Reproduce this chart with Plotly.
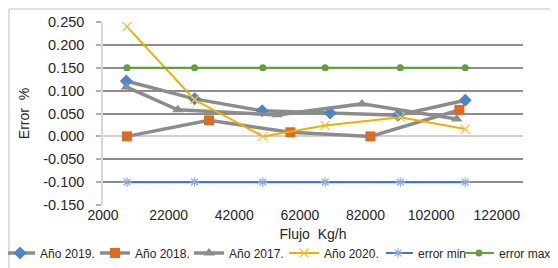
import plotly.graph_objects as go

# ---- data ----
x_2019 = [9100, 29900, 50500, 71200, 91900, 112400]
y_2019 = [0.121, 0.082, 0.056, 0.051, 0.046, 0.079]

x_2018 = [9300, 34300, 59100, 83500, 110600]
y_2018 = [0.000, 0.035, 0.009, 0.000, 0.058]

x_2017 = [9100, 24800, 55100, 80900, 109800]
y_2017 = [0.108, 0.058, 0.047, 0.071, 0.038]

x_2020 = [9300, 29900, 50700, 69700, 92600, 112400]
y_2020 = [0.240, 0.080, 0.000, 0.024, 0.042, 0.016]

x_err = [9300, 29900, 50700, 69700, 92600, 112400]
y_err_min = [-0.100, -0.100, -0.100, -0.100, -0.100, -0.100]
y_err_max = [0.150, 0.150, 0.150, 0.150, 0.150, 0.150]

x_tick_vals = [2000, 22000, 42000, 62000, 82000, 102000, 122000]
x_tick_text = ["2000", "22000", "42000", "62000", "82000", "102000", "122000"]
y_tick_vals = [-0.15, -0.10, -0.05, 0.0, 0.05, 0.10, 0.15, 0.20, 0.25]
y_tick_text = ["-0.150", "-0.100", "-0.050", "0.000", "0.050", "0.100", "0.150", "0.200", "0.250"]

# ---- layout constants ----
W, H = 558, 268
ML, MR, MT, MB = 95, 43, 14, 71
PW, PH = W - ML - MR, H - MT - MB
FONT = "Liberation Sans, Arial, sans-serif"
TXT = "#262626"
GREY_LINE = "#8c8c8c"
LEG_Y = -(245 - (H - MB)) / PH

fig = go.Figure()
fig.add_trace(go.Scatter(x=x_2019, y=y_2019, name="Año 2019.", mode="lines+markers",
                         line=dict(color=GREY_LINE, width=3.5),
                         marker=dict(symbol="diamond", size=10, color="#4a86c8"),
                         legendwidth=58))
fig.add_trace(go.Scatter(x=x_2018, y=y_2018, name="Año 2018.", mode="lines+markers",
                         line=dict(color=GREY_LINE, width=3.5),
                         marker=dict(symbol="square", size=10, color="#dc6a22"),
                         legendwidth=57))
fig.add_trace(go.Scatter(x=x_2017, y=y_2017, name="Año 2017.", mode="lines+markers",
                         line=dict(color=GREY_LINE, width=3.5),
                         marker=dict(symbol="triangle-up", size=10, color="#8c8c8c"),
                         legendwidth=58))
fig.add_trace(go.Scatter(x=x_2020, y=y_2020, name="Año 2020.", mode="lines+markers",
                         line=dict(color="#eeaf00", width=2),
                         marker=dict(symbol="x-thin-open", size=9, color="#f2c040",
                                     line=dict(width=1.2, color="#f2c040")),
                         legendwidth=60))
fig.add_trace(go.Scatter(x=x_err, y=y_err_min, name="error min", mode="lines+markers",
                         line=dict(color="#4472c4", width=2),
                         marker=dict(symbol="asterisk-open", size=8, color="#8faadc",
                                     line=dict(width=1.2, color="#8faadc")),
                         legend="legend2", legendwidth=44))
fig.add_trace(go.Scatter(x=x_err, y=y_err_max, name="error max", mode="lines+markers",
                         line=dict(color="#62a03a", width=2),
                         marker=dict(symbol="circle", size=7, color="#62a03a"),
                         legend="legend2", legendwidth=60))

legend_style = dict(orientation="h", xanchor="left", y=LEG_Y, yanchor="middle",
                    font=dict(size=12, color=TXT), bgcolor="rgba(0,0,0,0)",
                    traceorder="normal", borderwidth=0, indentation=-8)

fig.update_layout(
    width=W, height=H,
    margin=dict(l=ML, r=MR, t=MT, b=MB, autoexpand=False),
    paper_bgcolor="white", plot_bgcolor="white",
    font=dict(family=FONT, size=14, color=TXT),
    xaxis=dict(range=[2000, 130000], tickvals=x_tick_vals, ticktext=x_tick_text,
               showgrid=False, zeroline=False, showline=False, ticks="",
               ticklabelstandoff=0,
               title=dict(text="Flujo  Kg/h", font=dict(size=14, color=TXT), standoff=7)),
    xaxis2=dict(overlaying="x", matches="x", anchor="free", position=0.375,
                range=[2000, 130000], tickvals=x_tick_vals, showticklabels=False,
                showgrid=False, zeroline=False, showline=True, linecolor="#d0d0d0",
                linewidth=1.5, ticks="outside", ticklen=5, tickcolor="#d0d0d0", tickwidth=1.2),
    yaxis=dict(range=[-0.15, 0.25], tickvals=y_tick_vals, ticktext=y_tick_text,
               tickfont=dict(size=14.5),
               showgrid=True, gridcolor=GREY_LINE, gridwidth=2,
               zeroline=True, zerolinecolor="#d0d0d0", zerolinewidth=1.5,
               showline=True, linecolor="#d9d9d9", linewidth=1.5,
               ticks="outside", ticklen=5, tickcolor="#b0b0b0", tickwidth=1.5,
               ticklabelstandoff=9,
               title=dict(text="Error  %", font=dict(size=14, color=TXT), standoff=10)),
    legend=dict(x=-ML / PW, **legend_style),
    legend2=dict(x=(378 - ML) / PW, **legend_style),
    showlegend=True,
)

# outer chart-area border
fig.add_shape(type="rect", xref="paper", yref="paper",
              x0=(1 - ML) / PW, x1=(556 - ML) / PW,
              y0=-(266 - (H - MB)) / PH, y1=1 + (MT - 1) / PH,
              line=dict(color="#bfbfbf", width=1), layer="below")

fig.write_html("out.html")
